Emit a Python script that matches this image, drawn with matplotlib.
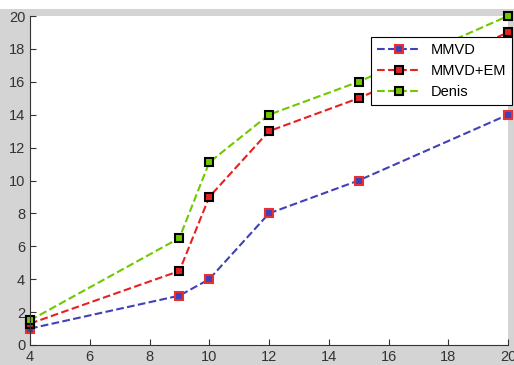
import matplotlib
matplotlib.use("Agg")
import matplotlib.pyplot as plt
from matplotlib.patches import Rectangle

plt.rcParams['font.family'] = ['Liberation Sans', 'DejaVu Sans']

x = [4, 9, 10, 12, 15, 20]
mmvd = [1.0, 3.0, 4.0, 8.0, 10.0, 14.0]
mmvd_em = [1.3, 4.5, 9.0, 13.0, 15.0, 19.0]
denis = [1.5, 6.5, 11.1, 14.0, 16.0, 20.0]

gris = '#d4d4d4'
fig = plt.figure(figsize=(5.14, 3.65), dpi=100, facecolor=gris)
# franja blanca arriba
fig.patches.append(Rectangle((0, 1 - 9/365), 1, 9/365, transform=fig.transFigure,
                             facecolor='white', edgecolor='none', zorder=0))
ax = fig.add_axes([30/514, 20/365, 478/514, 329/365])

ax.plot(x, mmvd, '--s', color='#4040b8', lw=1.5, ms=6, clip_on=False,
        mfc='#4040b8', mec='#e83030', mew=1.5, label='MMVD')
ax.plot(x, mmvd_em, '--s', color='#e82020', lw=1.5, ms=6, clip_on=False,
        mfc='#e82020', mec='black', mew=1.5, label='MMVD+EM')
ax.plot(x, denis, '--s', color='#70c800', lw=1.5, ms=6, clip_on=False,
        mfc='#70c800', mec='black', mew=1.5, label='Denis')

ax.set_xlim(4, 20)
ax.set_ylim(0, 20)
ax.set_xticks(range(4, 21, 2))
ax.set_yticks(range(0, 21, 2))
ax.tick_params(direction='in', labelsize=10.5, length=4, colors='#333333')
for lado in ['top', 'right']:
    ax.spines[lado].set_visible(False)
for lado in ['left', 'bottom']:
    ax.spines[lado].set_color('#333333')

leg = ax.legend(loc='upper right', bbox_to_anchor=(512/514, 1 - 37/365),
                bbox_transform=fig.transFigure, fontsize=10.5, fancybox=False,
                framealpha=1, edgecolor='black', borderaxespad=0,
                handlelength=3.0, handletextpad=0.7, labelspacing=0.5)
leg.get_frame().set_linewidth(0.8)
leg.set_zorder(5)

fig.savefig('out.png', dpi=100, facecolor=gris)
